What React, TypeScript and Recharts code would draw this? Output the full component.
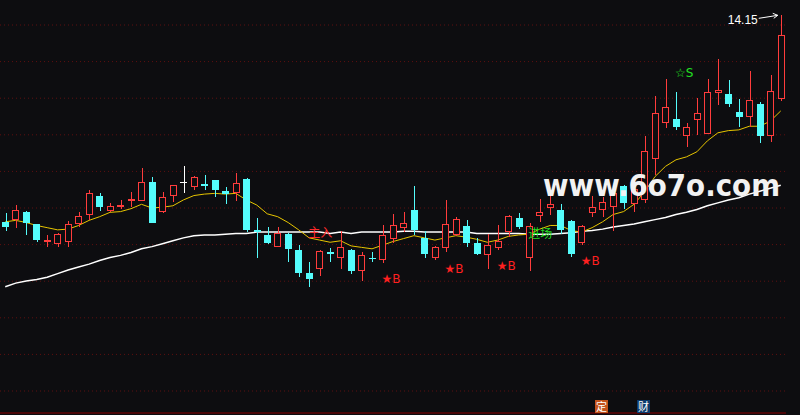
import React from 'react';
import { ComposedChart, Bar, Line, XAxis, YAxis, CartesianGrid } from 'recharts';

// daily bars, oldest first
const opens = [11.32, 11.34, 11.45, 11.29, 11.06, 11.01, 11.04, 11.29, 11.41, 11.67, 11.47, 11.52, 11.6, 11.61, 11.86, 11.45, 11.68, 11.86, 11.8, 11.84, 11.89, 11.74, 11.71, 11.91, 11.21, 11.14, 10.98, 11.15, 10.93, 10.62, 10.67, 10.9, 10.83, 10.94, 10.65, 10.83, 10.8, 11.08, 11.23, 11.48, 11.1, 10.82, 10.96, 11.14, 11.26, 11.03, 10.87, 10.96, 11.18, 11.37, 10.83, 11.4, 11.51, 11.48, 11.33, 11.03, 11.44, 11.48, 11.53, 11.81, 11.56, 11.62, 12.18, 12.67, 12.73, 12.5, 12.71, 12.53, 13.09, 13.07, 12.83, 12.76, 12.93, 12.49, 13.01];
const closes = [11.25, 11.48, 11.31, 11.07, 11.07, 11.15, 11.29, 11.4, 11.71, 11.53, 11.54, 11.55, 11.63, 11.86, 11.31, 11.66, 11.82, 11.86, 11.93, 11.83, 11.75, 11.7, 11.85, 11.21, 11.2, 11.03, 11.17, 10.95, 10.62, 10.54, 10.92, 10.89, 10.97, 10.65, 10.87, 10.82, 11.14, 11.27, 11.31, 11.21, 10.88, 10.98, 11.29, 11.36, 11.03, 10.88, 11.0, 11.06, 11.4, 11.25, 11.26, 11.46, 11.56, 11.21, 10.88, 11.26, 11.52, 11.59, 11.72, 11.58, 11.77, 12.29, 12.81, 12.9, 12.62, 12.62, 12.81, 13.1, 13.12, 12.93, 12.75, 12.99, 12.5, 13.11, 13.88];
const highs = [11.44, 11.55, 11.47, 11.29, 11.14, 11.17, 11.33, 11.45, 11.75, 11.72, 11.58, 11.62, 11.73, 12.06, 11.93, 11.73, 11.83, 12.08, 11.95, 11.96, 11.9, 11.8, 11.99, 11.92, 11.37, 11.25, 11.25, 11.16, 11.0, 10.77, 10.93, 10.96, 11.19, 10.95, 10.91, 10.9, 11.28, 11.43, 11.45, 11.81, 11.19, 10.99, 11.62, 11.38, 11.34, 11.1, 11.15, 11.28, 11.41, 11.44, 11.31, 11.63, 11.74, 11.57, 11.34, 11.27, 11.67, 11.66, 11.78, 11.82, 11.89, 12.5, 13.04, 13.28, 13.1, 12.68, 13.02, 13.28, 13.55, 13.26, 13.0, 13.39, 12.96, 13.33, 14.15];
const lows = [11.2, 11.24, 11.14, 11.05, 10.98, 10.98, 10.98, 11.25, 11.35, 11.47, 11.46, 11.5, 11.53, 11.6, 11.3, 11.44, 11.59, 11.72, 11.75, 11.75, 11.66, 11.56, 11.6, 11.18, 10.83, 11.01, 10.97, 10.77, 10.57, 10.42, 10.58, 10.77, 10.67, 10.61, 10.51, 10.77, 10.76, 11.03, 11.18, 11.14, 10.82, 10.79, 10.91, 11.13, 10.98, 10.87, 10.67, 10.93, 11.11, 11.22, 10.64, 11.32, 11.42, 11.15, 10.84, 11.0, 11.38, 11.39, 11.19, 11.49, 11.45, 11.58, 11.96, 12.61, 12.58, 12.35, 12.51, 12.52, 12.92, 12.9, 12.62, 12.62, 12.4, 12.42, 12.98];

// moving averages as drawn
const maShort = [11.32, 11.34, 11.31, 11.27, 11.24, 11.21, 11.22, 11.27, 11.34, 11.39, 11.45, 11.46, 11.5, 11.56, 11.51, 11.52, 11.54, 11.62, 11.68, 11.7, 11.71, 11.7, 11.71, 11.62, 11.55, 11.43, 11.39, 11.31, 11.21, 11.1, 11.07, 11.04, 11.06, 10.99, 10.97, 10.95, 11.0, 11.05, 11.09, 11.13, 11.1, 11.07, 11.1, 11.13, 11.11, 11.08, 11.04, 11.07, 11.12, 11.14, 11.15, 11.22, 11.27, 11.27, 11.2, 11.18, 11.24, 11.32, 11.42, 11.46, 11.56, 11.73, 11.94, 12.08, 12.17, 12.21, 12.28, 12.43, 12.54, 12.57, 12.58, 12.63, 12.63, 12.7, 12.84];
const maLong = [10.43, 10.48, 10.51, 10.53, 10.56, 10.61, 10.66, 10.7, 10.74, 10.79, 10.83, 10.86, 10.9, 10.95, 10.98, 11.02, 11.06, 11.1, 11.13, 11.14, 11.14, 11.15, 11.16, 11.16, 11.18, 11.18, 11.18, 11.18, 11.18, 11.18, 11.18, 11.16, 11.18, 11.16, 11.18, 11.18, 11.18, 11.18, 11.19, 11.19, 11.18, 11.18, 11.18, 11.18, 11.18, 11.16, 11.16, 11.16, 11.16, 11.16, 11.15, 11.15, 11.15, 11.16, 11.17, 11.19, 11.2, 11.22, 11.25, 11.27, 11.29, 11.32, 11.35, 11.38, 11.42, 11.45, 11.49, 11.54, 11.58, 11.62, 11.65, 11.7, 11.74, 11.78, 11.82];

// signal marks: bar index, text, price level of the text
const signalIdx = [36, 42, 47, 55, 64, 29, 50];
const signalText = ['★B', '★B', '★B', '★B', '☆S', '主入', '进场'];
const signalAt = [10.54, 10.68, 10.71, 10.78, 13.36, 11.17, 11.15];
const signalColor = ['#ff2020', '#ff2020', '#ff2020', '#ff2020', '#22e022', '#ff2a2a', '#22dd22'];

const BG = '#0d0d10';
const RED = '#ff3c3c';
const CYAN = '#54fcfc';

const peakIdx = highs.indexOf(Math.max(...highs));

const data = opens.map((o, i) => {
  const k = signalIdx.indexOf(i);
  return {
    i,
    open: o,
    close: closes[i],
    high: highs[i],
    low: lows[i],
    maShort: maShort[i],
    maLong: maLong[i],
    sig: k >= 0 ? signalAt[k] : null,
    sigText: k >= 0 ? signalText[k] : '',
    sigColor: k >= 0 ? signalColor[k] : '',
    peak: i === peakIdx ? highs[i] : null,
  };
});

const gridYs = [25, 61.6, 98.2, 134.8, 171.4, 208, 244.6, 281.2, 317.8, 354.4, 391];

const Candle = (props: any) => {
  const { x, y, width, height, payload } = props;
  const { open, close, high, low } = payload;
  const top = Math.min(y, y + height);
  const span = Math.abs(height);
  const py = (v: number) => (high === low ? top : top + ((high - v) / (high - low)) * span);
  const cx = Math.round(x + width / 2) + 0.5;
  const color = close > open ? RED : close < open ? CYAN : '#ffffff';
  const bTop = Math.round(py(Math.max(open, close)));
  const bBot = Math.round(py(Math.min(open, close)));
  const hiY = Math.round(py(high));
  const loY = Math.round(py(low));
  const left = Math.round(x);
  const w = Math.round(width);

  if (bBot - bTop < 2) {
    return (
      <g shapeRendering="crispEdges">
        <line x1={cx} x2={cx} y1={hiY} y2={loY} stroke={color} strokeWidth={1} />
        <rect x={left} y={bTop} width={w} height={Math.max(1, bBot - bTop + 1)} fill={color} />
      </g>
    );
  }
  if (close > open) {
    return (
      <g shapeRendering="crispEdges">
        <line x1={cx} x2={cx} y1={hiY} y2={bTop} stroke={color} strokeWidth={1} />
        <line x1={cx} x2={cx} y1={bBot} y2={loY} stroke={color} strokeWidth={1} />
        <rect x={left + 0.5} y={bTop + 0.5} width={w - 1} height={bBot - bTop - 1} fill={BG} stroke={color} strokeWidth={1} />
      </g>
    );
  }
  return (
    <g shapeRendering="crispEdges">
      <line x1={cx} x2={cx} y1={hiY} y2={loY} stroke={color} strokeWidth={1} />
      <rect x={left} y={bTop} width={w} height={bBot - bTop} fill={color} />
    </g>
  );
};

const renderSignal = (p: any) => {
  const { cx, cy, payload, index } = p;
  if (payload == null || payload.sig == null || cx == null || cy == null) return <g key={`s${index}`} />;
  return (
    <text
      key={`s${index}`}
      x={cx - 1}
      y={cy}
      fill={payload.sigColor}
      fontSize={12}
      fontFamily="'DejaVu Sans', 'Noto Sans CJK SC', sans-serif"
      dominantBaseline="central"
    >
      {payload.sigText}
    </text>
  );
};

const renderPeak = (p: any) => {
  const { cx, cy, payload, index } = p;
  if (payload == null || payload.peak == null || cx == null || cy == null) return <g key={`p${index}`} />;
  return (
    <g key={`p${index}`}>
      <text x={cx - 23} y={cy + 9} fill="#ffffff" fontSize={12} textAnchor="end" fontFamily="'Liberation Sans', Arial, sans-serif">
        {payload.peak.toFixed(2)}
      </text>
      <line x1={cx - 22} y1={cy + 3} x2={cx - 3} y2={cy} stroke="#ffffff" strokeWidth={1} />
      <line x1={cx - 3} y1={cy} x2={cx - 8} y2={cy - 2} stroke="#ffffff" strokeWidth={1} />
      <line x1={cx - 3} y1={cy} x2={cx - 7} y2={cy + 3} stroke="#ffffff" strokeWidth={1} />
    </g>
  );
};

export default function App() {
  return (
    <div style={{ position: 'relative', width: 800, height: 415, background: BG, overflow: 'hidden' }}>
      <style>{`body{margin:0;background:${BG};}`}</style>
      <ComposedChart width={800} height={415} data={data} margin={{ top: 0, right: 14, bottom: 0, left: 0 }}>
        <CartesianGrid vertical={false} horizontalPoints={gridYs} stroke="#5e1010" strokeDasharray="1 3" />
        <XAxis dataKey="i" tick={false} tickLine={false} height={2} axisLine={{ stroke: '#8a0000', strokeWidth: 1 }} />
        <YAxis hide domain={[8.7, 14.36]} allowDataOverflow />
        <Line dataKey="maLong" stroke="#ffffff" strokeWidth={1.5} dot={false} activeDot={false} isAnimationActive={false} />
        <Line dataKey="maShort" stroke="#e6c400" strokeWidth={1} dot={false} activeDot={false} isAnimationActive={false} />
        <Bar dataKey={(d: any) => [d.low, d.high]} barSize={7} shape={Candle} isAnimationActive={false} zIndex={500} />
        <Line dataKey="sig" stroke="none" dot={renderSignal} activeDot={false} isAnimationActive={false} zIndex={600} />
        <Line dataKey="peak" stroke="none" dot={renderPeak} activeDot={false} isAnimationActive={false} zIndex={600} />
      </ComposedChart>
      <svg width={800} height={415} style={{ position: 'absolute', left: 0, top: 0, pointerEvents: 'none' }}>
        <text x={543} y={196} fill="#f2f2f2" fontSize={31} fontWeight="bold" fontFamily="'DejaVu Sans', sans-serif" textLength={237} lengthAdjust="spacingAndGlyphs">
          www.6o7o.com
        </text>
      </svg>
      <div style={{ position: 'absolute', left: 595, top: 400, width: 13, height: 13, background: '#c4541c', color: '#fff', fontSize: 11, lineHeight: '13px', textAlign: 'center', fontFamily: "'Noto Sans CJK SC', sans-serif" }}>定</div>
      <div style={{ position: 'absolute', left: 637, top: 400, width: 13, height: 13, background: '#0c3a6c', color: '#fff', fontSize: 11, lineHeight: '13px', textAlign: 'center', fontFamily: "'Noto Sans CJK SC', sans-serif" }}>财</div>
    </div>
  );
}
